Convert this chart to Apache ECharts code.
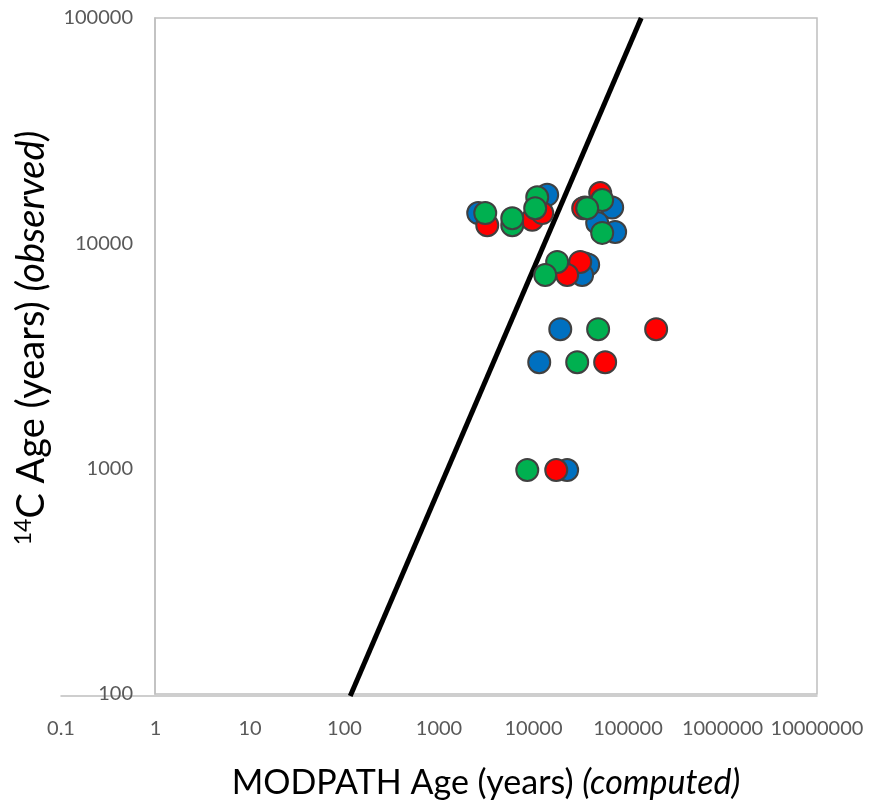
<!DOCTYPE html>
<html>
<head>
<meta charset="utf-8">
<script src="https://cdn.jsdelivr.net/npm/echarts@6/dist/echarts.min.js"></script>
<style>
  html, body { margin: 0; padding: 0; background: #fff; }
  #main { width: 883px; height: 805px; }
</style>
</head>
<body>
<div id="main"></div>
<script>
// MODPATH age (x, computed) vs 14C age (y, observed)
var blueData = [
  [2600, 13700], [13960, 16500], [35000, 14500], [68000, 14500], [47200, 12400],
  [73100, 11300], [35000, 8200], [37900, 8100], [32700, 7290],
  [19200, 4200], [11500, 3000], [22700, 1000]
];
var redData = [
  [3240, 12100], [9690, 12800], [12370, 13700], [50800, 16800], [33560, 14400],
  [31200, 8330], [22700, 7290],
  [198500, 4200], [57300, 3000], [17400, 1000]
];
var greenData = [
  [3085, 13700], [5960, 12100], [5960, 13000], [10950, 16100], [10420, 14400],
  [53300, 15650], [37000, 14400], [53300, 11200],
  [17800, 8330], [13300, 7290],
  [48300, 4200], [29000, 3000], [8590, 1000]
];
// 1:1 reference line
var lineData = [[115, 100], [138000, 100000]];

var xMin = 0.1, xMax = 10000000;
var yMin = 100, yMax = 100000;

var labelFont = 'Lato';
var axisGray = '#bfbfbf';
var labelGray = '#595959';

function fmt(v) {
  return v < 1 ? String(+v.toFixed(1)) : String(Math.round(v));
}

function dots(name, data, color) {
  return {
    name: name,
    type: 'scatter',
    xAxisIndex: 0,
    yAxisIndex: 0,
    data: data,
    symbol: 'circle',
    symbolSize: 22,
    itemStyle: {
      color: color,
      borderColor: '#404040',
      borderWidth: 2,
      opacity: 1
    },
    z: 3
  };
}

var option = {
  animation: false,
  grid: [
    { left: 61, right: 66, top: 18, bottom: 109 },
    {
      left: 155, right: 66, top: 18, bottom: 109,
      show: true, borderColor: axisGray, borderWidth: 1.5, backgroundColor: 'transparent'
    }
  ],
  xAxis: [
    {
      type: 'log',
      logBase: 10,
      gridIndex: 0,
      min: xMin,
      max: xMax,
      axisLine: { show: true, lineStyle: { color: axisGray, width: 1.5 } },
      axisTick: { show: false },
      splitLine: { show: false },
      axisLabel: {
        color: labelGray,
        fontFamily: labelFont,
        fontSize: 20,
        margin: 23,
        formatter: fmt
      }
    },
    {
      type: 'log',
      gridIndex: 1,
      min: xMin,
      max: xMax,
      axisLine: { show: false },
      axisTick: { show: false },
      splitLine: { show: false },
      axisLabel: { show: false },
      name: 'MODPATH Age (years) {it|(computed)}',
      nameLocation: 'middle',
      nameGap: 72,
      nameTextStyle: {
        color: '#000',
        fontFamily: labelFont,
        fontSize: 34,
        rich: {
          it: { fontStyle: 'italic', fontFamily: labelFont, fontSize: 34, color: '#000' }
        }
      }
    }
  ],
  yAxis: [
    {
      type: 'log',
      gridIndex: 0,
      min: yMin,
      max: yMax,
      show: false
    },
    {
      type: 'log',
      gridIndex: 1,
      min: yMin,
      max: yMax,
      axisLine: { show: true, lineStyle: { color: axisGray, width: 1.5 } },
      axisTick: { show: false },
      splitLine: { show: false },
      axisLabel: {
        color: labelGray,
        fontFamily: labelFont,
        fontSize: 20,
        margin: 22,
        formatter: fmt
      },
      name: '{sup|14}C Age (years) {it|(observed)}',
      nameLocation: 'middle',
      nameGap: 104,
      nameTextStyle: {
        color: '#000',
        fontFamily: labelFont,
        fontSize: 38,
        padding: [0, 0, 0, 36],
        rich: {
          sup: { fontSize: 23, fontFamily: labelFont, color: '#000', verticalAlign: 'top', padding: [0, 0, 16, 0] },
          it: { fontStyle: 'italic', fontFamily: labelFont, fontSize: 38, color: '#000' }
        }
      }
    }
  ],
  series: [
    {
      name: '1:1',
      type: 'line',
      xAxisIndex: 0,
      yAxisIndex: 0,
      data: lineData,
      symbol: 'none',
      lineStyle: { color: '#000', width: 5 },
      z: 2
    },
    dots('blue', blueData, '#0070C0'),
    dots('red', redData, '#FF0000'),
    dots('green', greenData, '#00B050')
  ]
};

var chart = echarts.init(document.getElementById('main'));
chart.setOption(option);
</script>
</body>
</html>
